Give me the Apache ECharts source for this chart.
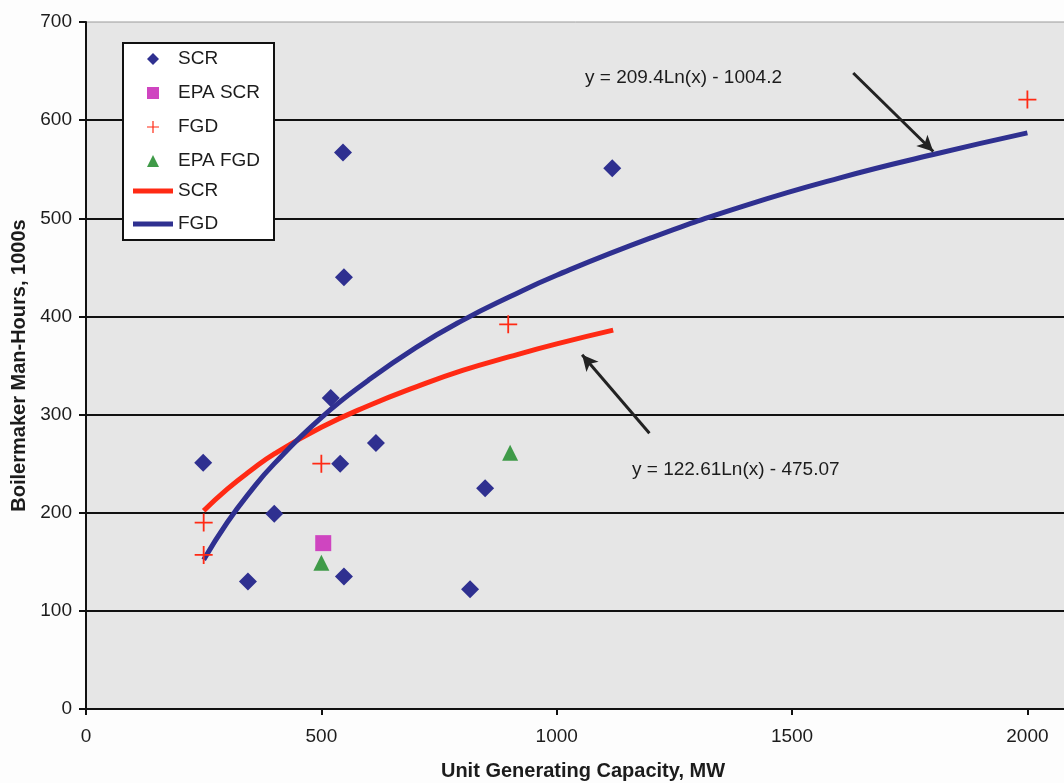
<!DOCTYPE html>
<html>
<head>
<meta charset="utf-8">
<script src="https://cdn.jsdelivr.net/npm/echarts@6/dist/echarts.min.js"></script>
<style>
  html, body { margin: 0; padding: 0; background: #fdfdfd; }
  #chart { width: 1064px; height: 783px; }
</style>
</head>
<body>
<div id="chart"></div>
<script>
// === data ===
const xTicks = [0, 500, 1000, 1500, 2000]
const yTicks = [0, 100, 200, 300, 400, 500, 600, 700]

const scrPoints = [
  [249, 251], [344, 130], [400, 199], [520, 317], [540, 250], [546, 567],
  [548, 440], [548, 135], [616, 271], [816, 122], [848, 225], [1118, 551],
]
const epaScrPoints = [[504, 169]]
const fgdPoints = [[250, 190], [250, 157], [500, 250], [897, 392], [2000, 621]]
const epaFgdPoints = [[500, 149], [901, 261]]

// trend lines, sampled along the drawn curves
const scrTrend = [
  [250, 202], [300, 224], [350, 243], [400, 260], [500, 287], [600, 309],
  [700, 328], [800, 345], [900, 359], [1000, 372], [1120, 386],
]
const fgdTrend = [
  [250, 152], [300, 190], [350, 222], [400, 250], [500, 297], [600, 335],
  [700, 368], [800, 396], [900, 420], [1000, 442], [1200, 480], [1400, 513],
  [1600, 541], [1800, 565], [2000, 587],
]

// arrows pointing from the equations to the curves
const fgdArrow = [[1630, 648], [1800, 568]]
const scrArrow = [[1197, 281], [1054, 361]]

const fgdEquation = 'y = 209.4Ln(x) - 1004.2'
const scrEquation = 'y = 122.61Ln(x) - 475.07'

// === styles ===
const FONT = "'Liberation Sans', Arial, sans-serif"
const TXT = '#1c1c1c'
const NAVY = '#2f3090'
const RED = '#ff2a14'
const MAGENTA = '#cf45c0'
const GREEN = '#3f9a48'
const PLUS = 'path://M9,0h2v9h9v2h-9v9h-2v-9h-9v-2h9z'

const chart = echarts.init(document.getElementById('chart'))

const arrowLine = (pts) => ({
  silent: true,
  symbol: ['none', 'arrow'],
  symbolSize: [12, 16],
  label: { show: false },
  emphasis: { disabled: true },
  lineStyle: { color: '#222', width: 3, type: 'solid' },
  data: [[{ coord: pts[0] }, { coord: pts[1] }]],
})

const scatterStyle = (color) => ({ color, opacity: 1 })

const option = {
  backgroundColor: '#fdfdfd',
  animation: false,
  grid: {
    left: 86, right: -34, top: 22, bottom: 74,
    outerBoundsMode: 'none',
    show: true, backgroundColor: '#e6e6e6', borderColor: '#9a9a9a', borderWidth: 1,
  },
  xAxis: {
    type: 'value',
    min: xTicks[0],
    max: 2150,
    interval: xTicks[1] - xTicks[0],
    name: 'Unit Generating Capacity, MW',
    nameLocation: 'middle',
    nameGap: 52,
    nameTextStyle: { fontFamily: FONT, fontSize: 20, fontWeight: 'bold', color: TXT, padding: [0, 18, 0, 0] },
    axisLine: { lineStyle: { color: '#111', width: 2 } },
    axisTick: { length: 6, lineStyle: { color: '#111', width: 2 } },
    axisLabel: { margin: 18, fontFamily: FONT, fontSize: 19, color: TXT,
      formatter: (v) => (xTicks.includes(v) ? String(v) : '') },
    splitLine: { show: false },
  },
  yAxis: {
    type: 'value',
    min: yTicks[0],
    max: yTicks[yTicks.length - 1],
    interval: yTicks[1] - yTicks[0],
    name: 'Boilermaker Man-Hours, 1000s',
    nameLocation: 'middle',
    nameRotate: 90,
    nameGap: 44,
    nameTextStyle: { fontFamily: FONT, fontSize: 20, fontWeight: 'bold', color: TXT },
    axisLine: { show: true, lineStyle: { color: '#111', width: 2 } },
    axisTick: { show: true, length: 7, lineStyle: { color: '#111', width: 2 } },
    axisLabel: { margin: 14, fontFamily: FONT, fontSize: 19, color: TXT },
    splitLine: { show: true, showMaxLine: false, lineStyle: { color: '#111', width: 2 } },
  },
  legend: [
    {
      orient: 'vertical', left: 142, top: 44, z: 6,
      itemWidth: 40, itemHeight: 12, itemGap: 14,
      selectedMode: false, symbolKeepAspect: true,
      textStyle: { fontFamily: FONT, fontSize: 19, lineHeight: 20, color: TXT },
      data: [
        { name: 'SCR', icon: 'path://M5,0L10,5L5,10L0,5Z' },
        { name: 'EPA SCR', icon: 'path://M0,0H10V10H0Z' },
        { name: 'FGD', icon: PLUS },
        { name: 'EPA FGD', icon: 'path://M5,0L10,10H0Z' },
      ],
    },
    {
      orient: 'vertical', left: 128, top: 176, z: 6,
      itemWidth: 40, itemHeight: 5, itemGap: 13,
      selectedMode: false,
      textStyle: { fontFamily: FONT, fontSize: 19, lineHeight: 20, color: TXT },
      data: [
        { name: 'SCR ', icon: 'rect' },
        { name: 'FGD ', icon: 'rect' },
      ],
    },
  ],
  graphic: [
    {
      type: 'rect', left: 122, top: 42, z: 5,
      shape: { width: 151, height: 197 },
      style: { fill: '#fff', stroke: '#111', lineWidth: 2 },
    },
    {
      type: 'text', left: 585, top: 68, z: 5,
      style: { text: fgdEquation, font: `19px ${FONT}`, fill: TXT },
    },
    {
      type: 'text', left: 632, top: 460, z: 5,
      style: { text: scrEquation, font: `19px ${FONT}`, fill: TXT },
    },
  ],
  series: [
    {
      name: 'SCR ', type: 'line', data: scrTrend, smooth: true, showSymbol: false,
      lineStyle: { color: RED, width: 5 }, itemStyle: { color: RED }, z: 2,
      markLine: arrowLine(scrArrow),
    },
    {
      name: 'FGD ', type: 'line', data: fgdTrend, smooth: true, showSymbol: false,
      lineStyle: { color: NAVY, width: 5 }, itemStyle: { color: NAVY }, z: 2,
      markLine: arrowLine(fgdArrow),
    },
    {
      name: 'SCR', type: 'scatter', data: scrPoints, symbol: 'diamond', symbolSize: 18,
      itemStyle: scatterStyle(NAVY), z: 3,
    },
    {
      name: 'EPA SCR', type: 'scatter', data: epaScrPoints, symbol: 'rect', symbolSize: 16,
      itemStyle: scatterStyle(MAGENTA), z: 3,
    },
    {
      name: 'FGD', type: 'scatter', data: fgdPoints, symbol: PLUS, symbolSize: 18,
      itemStyle: scatterStyle(RED), z: 3,
    },
    {
      name: 'EPA FGD', type: 'scatter', data: epaFgdPoints, symbol: 'triangle', symbolSize: 16,
      itemStyle: scatterStyle(GREEN), z: 3,
    },
  ],
}

chart.setOption(option)
window.addEventListener('resize', () => chart.resize())
</script>
</body>
</html>
